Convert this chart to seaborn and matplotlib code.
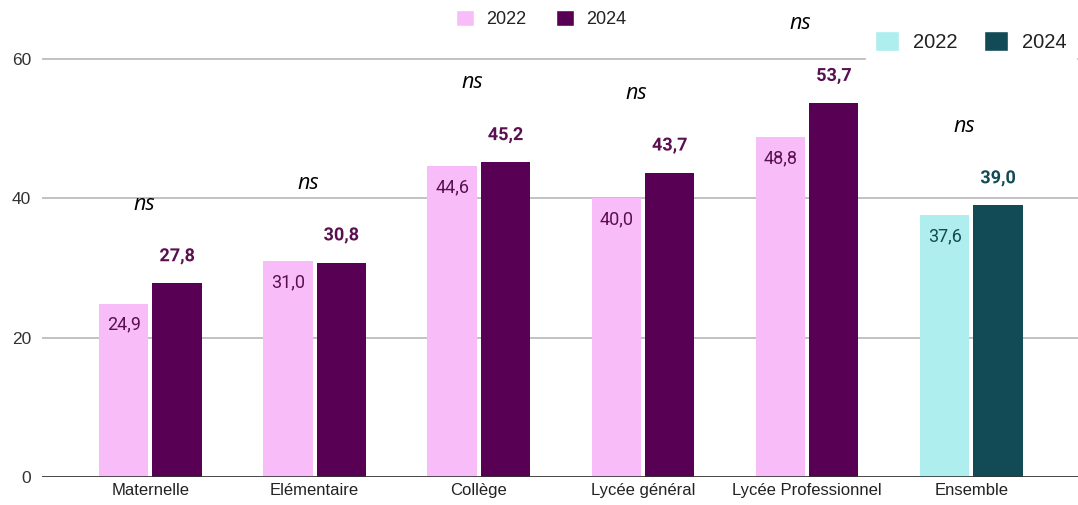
import pandas as pd
import matplotlib.pyplot as plt
import matplotlib.patheffects as pe
from matplotlib.patches import Patch
import seaborn as sns

# données
categories = ['Maternelle', 'Elémentaire', 'Collège', 'Lycée général', 'Lycée Professionnel', 'Ensemble']
val_2022 = [24.9, 31.0, 44.6, 40.0, 48.8, 37.6]
val_2024 = [27.8, 30.8, 45.2, 43.7, 53.7, 39.0]
signif = ['ns', 'ns', 'ns', 'ns', 'ns', 'ns']
annees = ['2022', '2024']

rose, violet = '#f8bdf8', '#570054'
cyan, sarcelle = '#aeeeee', '#124b55'

df = pd.DataFrame({
    'categorie': categories * 2,
    'annee': ['2022'] * len(categories) + ['2024'] * len(categories),
    'valeur': val_2022 + val_2024,
})

sns.set_style('white')
plt.rcParams['font.family'] = ['Liberation Sans', 'DejaVu Sans']

fig = plt.figure(figsize=(10.78, 5.05), dpi=100)
ax = fig.add_axes([0.039, 0.0555, 0.961, 0.9445])

sns.barplot(data=df, x='categorie', y='valeur', hue='annee', order=categories,
            hue_order=annees, palette=[rose, violet], width=0.65, gap=0.075,
            saturation=1, legend=False, ax=ax, zorder=2, linewidth=0)

# Ensemble en couleurs différentes
ax.containers[0][-1].set_facecolor(cyan)
ax.containers[1][-1].set_facecolor(sarcelle)

ax.set_ylim(0, 68.5)
ax.set_xlim(-0.66, 5.65)
ax.set_yticks([0, 20, 40, 60])
ax.grid(axis='y', color='#b8b8b8', lw=1.2, zorder=0)
ax.axhline(0, color='#333333', lw=1.2, zorder=3)
for s in ax.spines.values():
    s.set_visible(False)
ax.tick_params(axis='y', length=0, labelsize=12.5, colors='#333333', pad=8)
ax.tick_params(axis='x', length=0, labelsize=12, colors='#222222', pad=4)
ax.set_xlabel('')
ax.set_ylabel('')

# étiquettes
for i, cat in enumerate(categories):
    c1 = '#124b55' if cat == 'Ensemble' else '#5a1050'
    b1 = ax.containers[0][i]
    xc = b1.get_x() + b1.get_width() / 2
    ax.text(xc, val_2022[i] - 3, f'{val_2022[i]:.1f}'.replace('.', ','),
            ha='center', va='center', fontsize=13, color=c1, family='Roboto', zorder=4)
    b2 = ax.containers[1][i]
    xc2 = b2.get_x() + b2.get_width() / 2
    ax.text(xc2, val_2024[i] + 3.9, f'{val_2024[i]:.1f}'.replace('.', ','),
            ha='center', va='center', fontsize=13, fontweight='bold', color=c1,
            family='Roboto', zorder=4,
            path_effects=[pe.withStroke(linewidth=4, foreground='white')])
    ax.text(i - 0.04, val_2024[i] + 11.4, signif[i], ha='center', va='center',
            fontsize=15.5, style='italic', color='black', family='Open Sans', zorder=4)

# légendes
leg1 = fig.legend(handles=[Patch(fc=rose, label='2022'), Patch(fc=violet, label='2024')],
                  loc='center', bbox_to_anchor=(0.502, 0.962), ncol=2, frameon=False,
                  fontsize=13, handlelength=1.0, handleheight=1.0, columnspacing=1.6,
                  handletextpad=0.7, labelcolor='#222222')
leg2 = ax.legend(handles=[Patch(fc=cyan, label='2022'), Patch(fc=sarcelle, label='2024')],
                 loc='center right', bbox_to_anchor=(1.0, 0.918), bbox_transform=fig.transFigure,
                 ncol=2, frameon=True, fancybox=False, edgecolor='white', facecolor='white',
                 framealpha=1, fontsize=14.5, handlelength=1.2, handleheight=1.2,
                 columnspacing=1.3, handletextpad=0.7, labelcolor='#222222',
                 borderpad=0.45, borderaxespad=0.1)
leg2.set_zorder(5)

fig.savefig('out.png', dpi=100)
